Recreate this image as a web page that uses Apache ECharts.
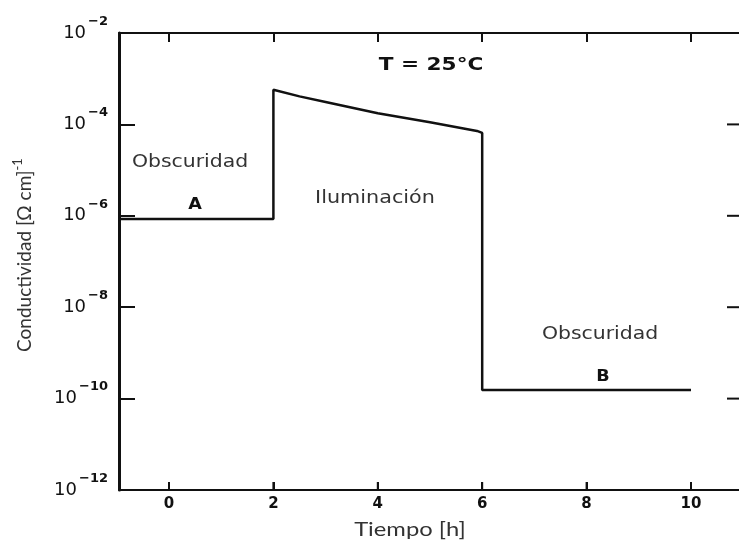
<!DOCTYPE html>
<html>
<head>
<meta charset="utf-8">
<script src="https://cdn.jsdelivr.net/npm/echarts@6/dist/echarts.min.js"></script>
<style>
html,body{margin:0;padding:0;background:#fff;}
#chart{width:739px;height:541px;}
</style>
</head>
<body>
<div id="chart"></div>
<script>
// ---- data ----
const timeH = [-0.958, 2, 2, 2.5, 3, 4, 5, 5.9, 6, 6, 10];
const conductivity = [8.5e-7, 8.5e-7, 5.75e-4, 4.1e-4, 3.1e-4, 1.75e-4, 1.12e-4, 7.2e-5, 6.5e-5, 1.55e-10, 1.55e-10];
const xTickValues = [0, 2, 4, 6, 8, 10];
const yTickValues = [1e-10, 1e-8, 1e-6, 1e-4];
const xMin = -0.958;
const xMax = 10.92;
const yMin = 1e-12;
const yMax = 1e-2;
const xLabel = 'Tiempo [h]';
const yLabel = 'Conductividad [\u03A9 cm]';
const yLabelSup = '-1';
const annotations = [
  {text: 'T = 25\u00B0C', x: 431, y: 65, font: 'bold 18px "DejaVu Sans"', fill: '#111', sx: 1.2},
  {text: 'Obscuridad', x: 190, y: 163, font: '17px "DejaVu Sans"', fill: '#333', sx: 1.2},
  {text: 'A', x: 195, y: 205, font: 'bold 16px "DejaVu Sans"', fill: '#111', sx: 1.1},
  {text: 'Iluminaci\u00F3n', x: 375, y: 199, font: '17px "DejaVu Sans"', fill: '#333', sx: 1.22},
  {text: 'Obscuridad', x: 600, y: 335, font: '17px "DejaVu Sans"', fill: '#333', sx: 1.2},
  {text: 'B', x: 603, y: 377, font: 'bold 16px "DejaVu Sans"', fill: '#111', sx: 1.1}
];

const chart = echarts.init(document.getElementById('chart'), null, {renderer: 'canvas'});
const seriesData = timeH.map((t, i) => [t, conductivity[i]]);

const option = {
  animation: false,
  backgroundColor: '#fff',
  grid: {left: 119, right: 0, top: 33, bottom: 51},
  xAxis: [
    {
      type: 'value', position: 'bottom', min: xMin, max: xMax,
      splitLine: {show: false},
      axisLine: {show: true, onZero: false, lineStyle: {color: '#111', width: 2}},
      axisTick: {show: true, inside: true, length: 8, customValues: xTickValues, lineStyle: {color: '#111', width: 2}},
      axisLabel: {show: true, customValues: xTickValues, margin: 7, color: '#111',
        fontFamily: 'DejaVu Sans', fontWeight: 'bold', fontSize: 15}
    },
    {
      type: 'value', position: 'top', min: xMin, max: xMax,
      splitLine: {show: false},
      axisLine: {show: true, onZero: false, lineStyle: {color: '#111', width: 2}},
      axisTick: {show: true, inside: true, length: 9, customValues: xTickValues, lineStyle: {color: '#111', width: 2}},
      axisLabel: {show: false}
    }
  ],
  yAxis: [
    {
      type: 'log', logBase: 100, min: yMin, max: yMax, position: 'left',
      splitLine: {show: false},
      axisLine: {show: true, onZero: false, lineStyle: {color: '#111', width: 3}},
      axisTick: {show: true, inside: true, length: 16, lineStyle: {color: '#111', width: 2}},
      axisLabel: {
        show: true, margin: 11, align: 'right', verticalAlign: 'middle',
        formatter: function (v) {
          const e = Math.round(Math.log10(v));
          return '{b|10}{s|' + String(e).replace('-', '\u2212') + '}';
        },
        rich: {
          b: {fontFamily: 'DejaVu Sans', fontSize: 18, color: '#111', lineHeight: 36, verticalAlign: 'middle'},
          s: {fontFamily: 'DejaVu Sans', fontSize: 13, fontWeight: 'bold', color: '#111', lineHeight: 10, verticalAlign: 'top', padding: [0, 0, 0, 2]}
        }
      }
    }
  ],
  series: [
    {
      type: 'line',
      data: seriesData,
      showSymbol: false,
      symbol: 'none',
      lineStyle: {color: '#111', width: 2.5},
      z: 3
    },
    {
      // bottom-axis tick marks, placed through the axis scales
      type: 'custom', silent: true, clip: false,
      data: xTickValues.map(v => [v, yMin]),
      renderItem: function (params, api) {
        const p = api.coord([api.value(0), api.value(1)]);
        return {type: 'rect', shape: {x: p[0] - 1, y: p[1] - 8, width: 2, height: 8}, style: {fill: '#111'}};
      },
      z: 10
    },
    {
      // right-edge tick marks, placed through the axis scales
      type: 'custom', silent: true, clip: false,
      data: yTickValues.map(v => [xMax, v]),
      renderItem: function (params, api) {
        const p = api.coord([api.value(0), api.value(1)]);
        return {type: 'rect', shape: {x: p[0] - 12, y: p[1] - 1, width: 12, height: 2}, style: {fill: '#111'}};
      },
      z: 10
    }
  ],
  graphic: [
    {
      type: 'text', x: 25, y: 255, rotation: Math.PI / 2,
      style: {
        text: '{n|' + yLabel + '}{s|' + yLabelSup + '}',
        align: 'center', verticalAlign: 'middle',
        rich: {
          n: {fontFamily: 'Lato', fontSize: 19, fill: '#333', lineHeight: 28, verticalAlign: 'middle'},
          s: {fontFamily: 'Lato', fontSize: 13, fill: '#333', lineHeight: 10, verticalAlign: 'top'}
        }
      }
    },
    {
      type: 'text', x: 410, y: 530, scaleX: 1.25,
      style: {text: xLabel, font: '19px Lato', fill: '#333', align: 'center', verticalAlign: 'middle'}
    }
  ].concat(annotations.map(a => ({
    type: 'text', x: a.x, y: a.y, scaleX: a.sx,
    style: {text: a.text, font: a.font, fill: a.fill, align: 'center', verticalAlign: 'middle'}
  })))
};
chart.setOption(option);
</script>
</body>
</html>
